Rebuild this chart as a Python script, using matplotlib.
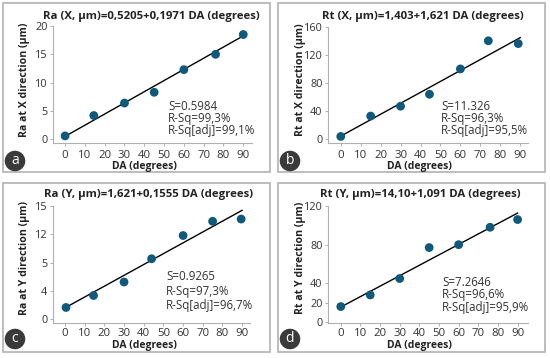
import matplotlib.pyplot as plt
import matplotlib.patches as patches
import numpy as np

W, H = 550, 358
plt.rcParams['font.family'] = ['Open Sans', 'DejaVu Sans']

# Данные (DA, град.)
da_a = [0, 14.5, 30, 45, 60, 76, 90]
da_b = [0, 15, 30, 44.5, 60, 74, 89]
da_c = [0.5, 14.5, 30, 44, 60, 75, 89.5]
da_d = [0, 15, 30, 45, 60, 76, 90]

ra_x = [0.6, 4.2, 6.4, 8.3, 12.3, 15.0, 18.5]
rt_x = [4.0, 33, 47, 64, 100, 140, 136]
ra_y = [1.5, 3.1, 4.9, 8.0, 11.1, 13.0, 13.3]
rt_y = [16, 28, 45, 77, 80, 98, 106]

# Линии регрессии (по графику)
fit_a = (0.52, 0.1971)
fit_b = (4.5, 1.555)
fit_c = (1.45, 0.1446)
fit_d = (15.5, 1.08)

titles = ['Ra (X, µm)=0,5205+0,1971 DA (degrees)',
          'Rt (X, µm)=1,403+1,621 DA (degrees)',
          'Ra (Y, µm)=1,621+0,1555 DA (degrees)',
          'Rt (Y, µm)=14,10+1,091 DA (degrees)']
ylabels = ['Ra at X direction (µm)', 'Rt at X direction (µm)',
           'Ra at Y direction (µm)', 'Rt at Y direction (µm)']
stats = [['S=0.5984', 'R-Sq=99,3%', 'R-Sq[adj]=99,1%'],
         ['S=11.326', 'R-Sq=96,3%', 'R-Sq[adj]=95,5%'],
         ['S=0.9265', 'R-Sq=97,3%', 'R-Sq[adj]=96,7%'],
         ['S=7.2646', 'R-Sq=96,6%', 'R-Sq[adj]=95,9%']]
letters = ['a', 'b', 'c', 'd']
yticks = [[0, 5, 10, 15, 20], [0, 40, 80, 120, 160],
          [0, 3.75, 7.5, 11.25, 15], [0, 20, 40, 80, 120]]
yticklabels = [['0', '5', '10', '15', '20'], ['0', '40', '80', '120', '160'],
               ['0', '4', '5', '12', '15'], ['0', '20', '40', '80', '120']]

# пиксельная геометрия: (left, right, top, bottom) осей, xlim, ylim
geo = [
    dict(ax=(53, 252, 26, 143), xlim=(-6.1, 94.4), ylim=(-0.65, 20), box=(3, 3, 270, 172),
         off=(0, 0), st=(168, 106, 12.5), tx=151, xp=2.5, xly=166),
    dict(ax=(328, 528, 26.7, 143), xlim=(-6.4, 93.9), ylim=(-5.3, 160), box=(278, 3, 545, 172),
         off=(275, 0), st=(441, 106, 12.5), tx=148, xp=2.5, xly=166),
    dict(ax=(53, 250, 206.3, 323.3), xlim=(-6.1, 94), ylim=(-0.61, 15), box=(3, 183, 270, 352),
         off=(0, 178), st=(166, 277, 14), tx=148.5, xp=1.2, xly=167.5),
    dict(ax=(328, 528, 206, 323.3), xlim=(-6.5, 95.3), ylim=(-1.3, 120), box=(278, 183, 545, 352),
         off=(275, 178), st=(442, 282, 12.5), tx=145, xp=1.2, xly=167.5),
]

data = [(da_a, ra_x, fit_a), (da_b, rt_x, fit_b), (da_c, ra_y, fit_c), (da_d, rt_y, fit_d)]

fig = plt.figure(figsize=(W / 100, H / 100), dpi=100)


def fx(x):
    return x / W


def fy(y):
    return 1 - y / H


for i in range(4):
    g = geo[i]
    ox, oy = g['off']
    x0, y0, x1, y1 = g['box']
    fig.patches.append(patches.Rectangle((fx(x0), fy(y1)), fx(x1 - x0), (y1 - y0) / H,
                                         transform=fig.transFigure, fill=False,
                                         ec='#b8b8b8', lw=1.3))
    l, r, t, b = g['ax']
    ax = fig.add_axes([fx(l), fy(b), fx(r - l), (b - t) / H])
    xs, ys, fit = data[i]
    xl = np.array([0, 90])
    ax.plot(xl, fit[0] + fit[1] * xl, color='black', lw=1.0, zorder=2)
    ax.scatter(xs, ys, s=40, color='#0f5a7c', zorder=3, edgecolors='none')
    ax.set_xlim(*g['xlim'])
    ax.set_ylim(*g['ylim'])
    ax.set_xticks(range(0, 91, 10))
    ax.set_yticks(yticks[i])
    ax.set_yticklabels(yticklabels[i])
    for s in ['top', 'right']:
        ax.spines[s].set_visible(False)
    for s in ['left', 'bottom']:
        ax.spines[s].set_color('#b0b0b0')
        ax.spines[s].set_linewidth(0.8)
    ax.tick_params(colors='#b0b0b0', labelcolor='#333333', length=2.5, width=0.7)
    ax.tick_params(axis='x', labelsize=8.2, pad=g['xp'])
    ax.tick_params(axis='y', labelsize=7.8, pad=1.5)
    ax.patch.set_alpha(0)

    fig.text(fx(ox + g['tx']), fy(oy + 16), titles[i], ha='center', va='center',
             fontsize=8.2, fontweight='bold', color='#222222')
    fig.text(fx(ox + 25), fy(oy + 80), ylabels[i], ha='center', va='center', rotation=90,
             fontsize=7.6, fontweight='bold', color='#222222')
    fig.text(fx(ox + 144), fy(oy + g['xly']), 'DA (degrees)', ha='center', va='center',
             fontsize=7.5, fontweight='bold', color='#222222')
    sx, sy, sd = g['st']
    for k, line in enumerate(stats[i]):
        fig.text(fx(sx), fy(sy + k * sd), line, ha='left', va='center',
                 fontsize=8.3, color='#333333')
    fig.text(fx(ox + 15), fy(oy + 161), letters[i], ha='center', va='center', fontsize=10,
             color='white', bbox=dict(boxstyle='circle,pad=0.2', fc='#3a3a3a', ec='none'))

fig.savefig('out.png', dpi=100)
